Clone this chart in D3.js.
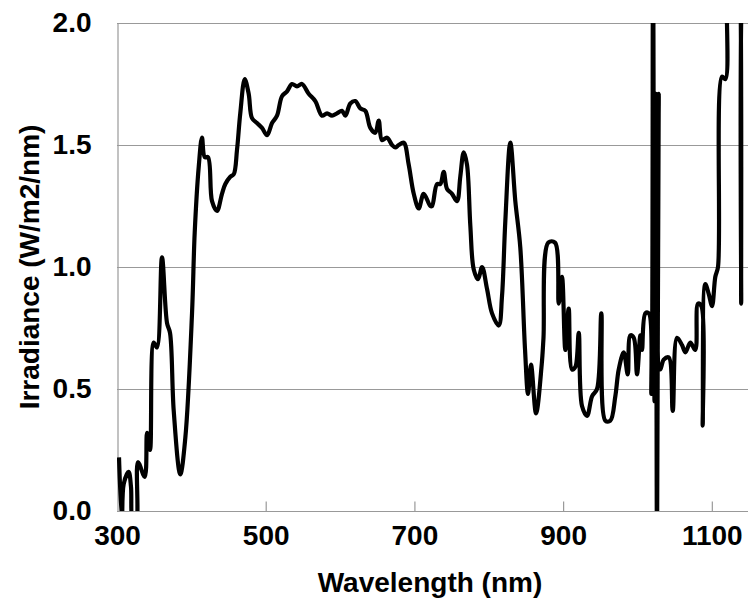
<!DOCTYPE html>
<html lang="en">
<head>
  <meta charset="UTF-8"/>
  <title>Irradiance spectrum</title>
  <script src="https://d3js.org/d3.v7.min.js"></script>
  <style>
    body { margin: 0; background: #fff; }
    text { font-family: "Liberation Sans", Arial, sans-serif; font-weight: bold; fill: #000; }
  </style>
</head>
<body>
<script>

  var w = 748;
  var h = 605;

  // values
  var wavelength = [302.7, 306.7, 309, 315.7, 318.8, 321.5, 325.5, 328.2, 337.3, 340.4,
    344.4, 349.4, 353.8, 360.5, 367.3, 371.3, 376.3, 385.1, 391.9, 400.9,
    404.5, 409.9, 414.3, 418, 422.4, 427.8, 434.5, 441.2, 445.7, 452.4,
    457, 461.4, 465.8, 471.8, 477.1, 481.6, 488.3, 495, 501.8, 508.5,
    515.2, 521.9, 528.7, 535.4, 542.1, 548.8, 557.8, 566.7, 575.7, 582.5,
    589.2, 595.9, 602.6, 607.1, 613.8, 620.5, 627.2, 634, 640.7, 647.4,
    652, 656.4, 663.2, 669.9, 674.3, 678.9, 685.6, 692.3, 699.1, 705.8,
    712.5, 721.4, 723.7, 730.4, 734.8, 739.4, 743.9, 750.6, 757.3, 761.7,
    766.3, 770.7, 775.2, 779.8, 785.6, 791, 797.7, 804.4, 813.4, 817.8,
    822.3, 829, 835.7, 842.4, 848.8, 852.8, 856.8, 863.6, 871.2, 873.6,
    880.1, 889.1, 894.1, 898.5, 903, 907.5, 912, 916.4, 921, 925.4,
    932.2, 938.9, 945.6, 951.4, 956.8, 963.5, 970.2, 974.8, 981.5, 986.9,
    990.4, 995, 999.4, 1003.9, 1006.1, 1010.6, 1015.2, 1018.7, 1020.9, 1022.9,
    1024.7, 1026.3, 1028.6, 1030.7, 1035.3, 1042, 1047.4, 1053.2, 1059.9, 1064.4,
    1071.1, 1077.8, 1081.4, 1085.9, 1087.7, 1091.2, 1095.8, 1100.3, 1104.7, 1108.3,
    1113.7, 1118.2, 1120.5, 1132.6, 1138, 1139.5, 1141, 1150];

  var irradiance = [0.22, -0.05, 0.11, 0.16, 0.10, -0.05, -0.05, 0.20, 0.14, 0.32,
    0.25, 0.69, 0.67, 1.04, 0.77, 0.73, 0.41, 0.15, 0.30, 0.81,
    1.14, 1.41, 1.53, 1.45, 1.45, 1.27, 1.23, 1.30, 1.34, 1.37,
    1.38, 1.48, 1.63, 1.77, 1.71, 1.61, 1.59, 1.57, 1.54, 1.59,
    1.62, 1.70, 1.72, 1.75, 1.74, 1.75, 1.71, 1.68, 1.62, 1.63,
    1.62, 1.63, 1.64, 1.62, 1.67, 1.68, 1.65, 1.64, 1.57, 1.55,
    1.60, 1.52, 1.53, 1.50, 1.49, 1.50, 1.51, 1.42, 1.30, 1.24,
    1.30, 1.25, 1.25, 1.34, 1.34, 1.39, 1.32, 1.30, 1.27, 1.37,
    1.47, 1.42, 1.17, 0.99, 0.95, 1.00, 0.91, 0.81, 0.76, 0.88,
    1.19, 1.51, 1.27, 1.08, 0.66, 0.48, 0.60, 0.40, 0.60, 0.71,
    1.10, 1.10, 0.85, 0.96, 0.66, 0.83, 0.58, 0.59, 0.73, 0.43,
    0.39, 0.47, 0.50, 0.81, 0.37, 0.37, 0.47, 0.58, 0.65, 0.56,
    0.72, 0.71, 0.56, 0.72, 0.66, 0.81, 0.81, 0.48, 2.3, 0.45,
    1.71, -0.2, 1.71, 0.58, 0.62, 0.63, 0.41, 0.71, 0.68, 0.65,
    0.69, 0.66, 0.85, 0.84, 0.35, 0.93, 0.89, 0.84, 0.96, 1.00,
    1.78, 1.77, 2.3, 2.5, 2.2, 0.85, 2.2, 2.5];

  var xTicks = [300, 500, 700, 900, 1100];
  var yTicks = [0, 0.5, 1.0, 1.5, 2.0];

  var data = wavelength.map(function(d, i) {
    return { wl: d, v: irradiance[i] };
  });

  var plotLeft = 117, plotTop = 23, plotRight = 749, plotBottom = 511;

  var x = d3.scaleLinear().domain([300, 1150]).range([plotLeft, plotRight]);
  var y = d3.scaleLinear().domain([0, 2]).range([plotBottom, plotTop]);

  var svg = d3.select("body")
              .append("svg")
              .attr("width", w)
              .attr("height", h);

  svg.append("clipPath")
     .attr("id", "plot")
     .append("rect")
     .attr("x", plotLeft)
     .attr("y", plotTop)
     .attr("width", plotRight - plotLeft)
     .attr("height", plotBottom - plotTop);

  // gridlines
  svg.selectAll("line.grid")
     .data(yTicks.slice(1))
     .enter()
     .append("line")
     .attr("class", "grid")
     .attr("x1", plotLeft)
     .attr("x2", w)
     .attr("y1", function(d) { return Math.round(y(d)) + 0.5; })
     .attr("y2", function(d) { return Math.round(y(d)) + 0.5; })
     .style("stroke", "#999")
     .style("stroke-width", 1.2);

  // axes
  var xAxis = d3.axisBottom(x)
                .tickValues(xTicks)
                .tickSize(-10)
                .tickFormat(d3.format("d"));

  var gx = svg.append("g")
     .attr("transform", "translate(0," + (plotBottom + 0.5) + ")")
     .call(xAxis);
  gx.select(".domain").attr("d", "M" + plotLeft + ",0H" + w);
  gx.selectAll("line, path").style("stroke", "#999").style("stroke-width", 1.2);
  gx.selectAll(".tick").filter(function(d) { return d == 300; }).select("line").remove();
  gx.selectAll("text")
    .attr("y", 14)
    .style("font-size", "28px")
    .style("font-family", "Liberation Sans, Arial, sans-serif")
    .style("font-weight", "bold")
    .attr("fill", "#000");

  var yAxis = d3.axisLeft(y)
                .tickValues(yTicks)
                .tickSize(0)
                .tickPadding(26)
                .tickFormat(d3.format(".1f"));

  var gy = svg.append("g")
     .attr("transform", "translate(" + (plotLeft + 0.5) + ",0)")
     .call(yAxis);
  gy.select(".domain").style("stroke", "#999").style("stroke-width", 1.2);
  gy.selectAll("text")
    .style("font-size", "28px")
    .style("font-family", "Liberation Sans, Arial, sans-serif")
    .style("font-weight", "bold")
    .attr("fill", "#000");

  // smoothed line, like the spreadsheet original
  var line = d3.line()
               .curve(d3.curveCatmullRom.alpha(0.5))
               .x(function(d) { return x(d.wl); })
               .y(function(d) { return y(d.v); });

  svg.append("path")
     .datum(data)
     .attr("clip-path", "url(#plot)")
     .attr("d", line)
     .style("fill", "none")
     .style("stroke", "#000")
     .style("stroke-width", 4.2)
     .style("stroke-linejoin", "round");

  svg.append("text")
     .attr("x", 430)
     .attr("y", 592)
     .attr("text-anchor", "middle")
     .style("font-size", "28px")
     .text("Wavelength (nm)");

  svg.append("text")
     .attr("transform", "translate(39,267) rotate(-90)")
     .attr("text-anchor", "middle")
     .style("font-size", "28px")
     .text("Irradiance (W/m2/nm)");

</script>
</body>
</html>
